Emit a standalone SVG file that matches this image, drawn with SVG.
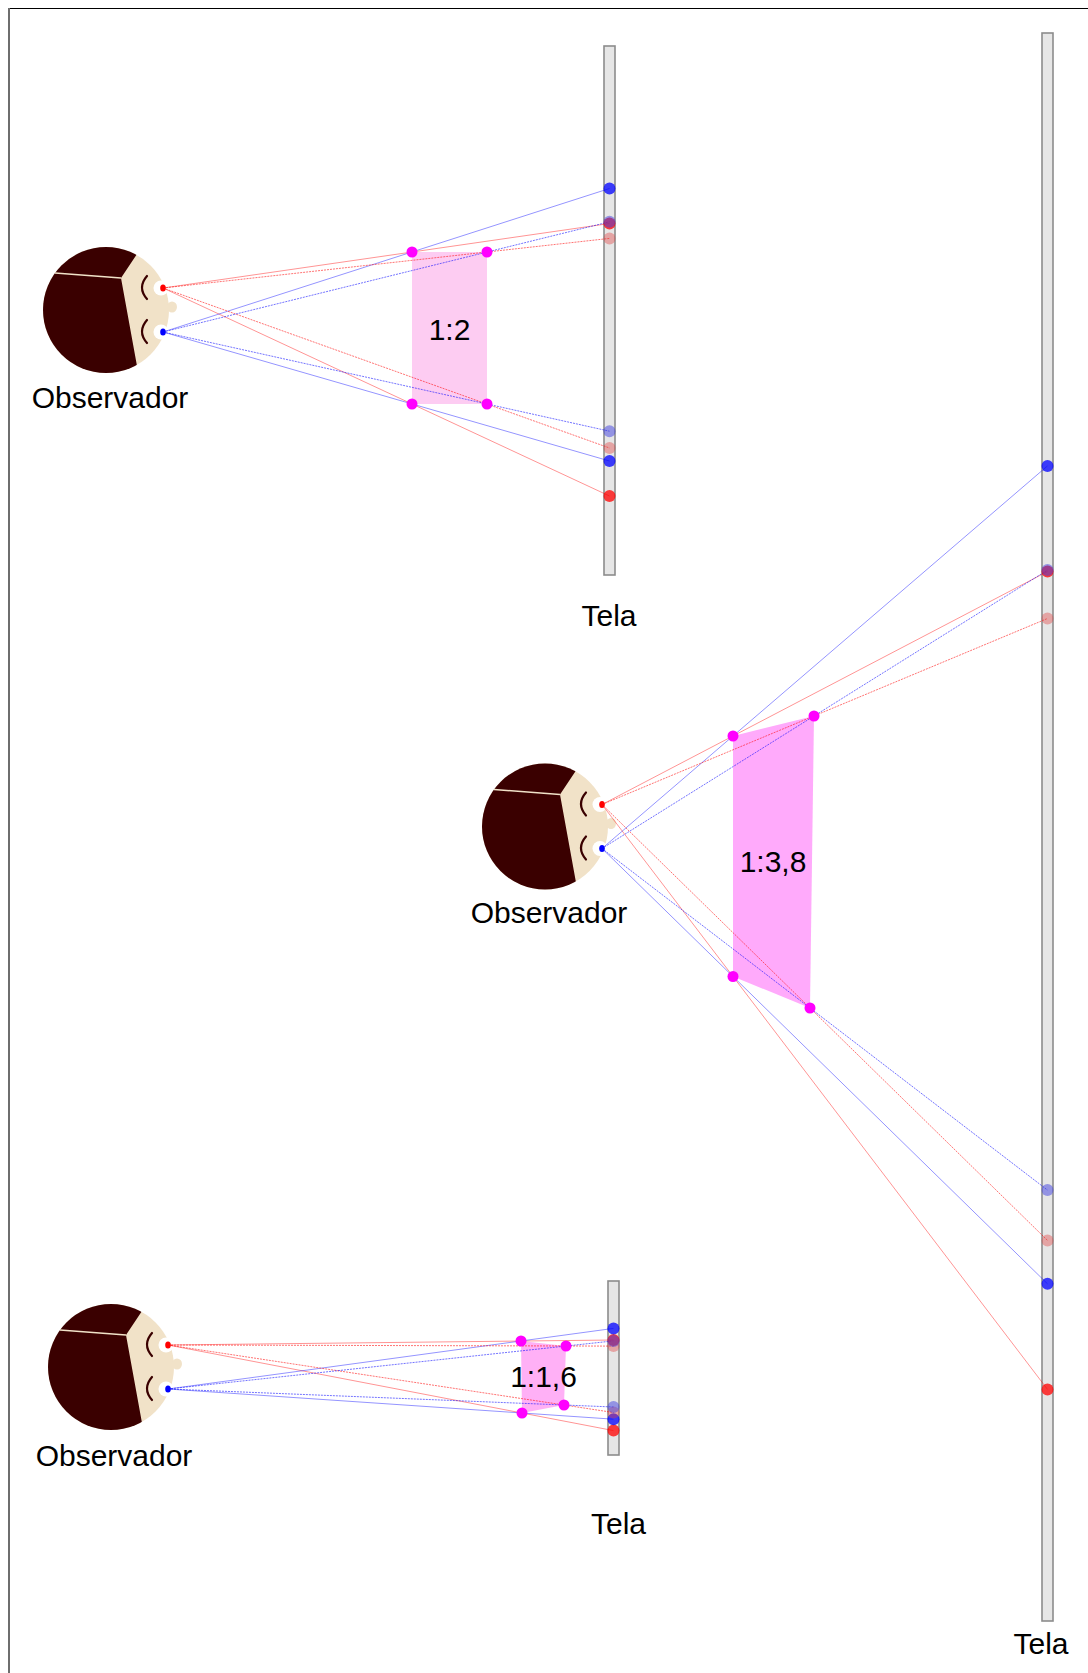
<svg xmlns="http://www.w3.org/2000/svg" width="1088" height="1673" viewBox="0 0 1088 1673">
  <defs>
    <style>
      text { font-family: "Liberation Sans", Arial, sans-serif; font-size: 30px; fill: #000; }
      .lbl { text-anchor: middle; }
      .screen { fill: #e6e6e6; stroke: #8c8c8c; stroke-width: 1.6; }
      .ray { stroke-width: 1; fill: none; }
      .r { stroke: #ff0000; }
      .b { stroke: #0000ff; }
      .near { stroke-opacity: 0.42; }
      .far { stroke-opacity: 0.55; stroke-dasharray: 2 1; }
      .pt { fill: #ff00ff; }
      .dr { fill: #ff0000; fill-opacity: 0.75; }
      .db { fill: #0000ff; fill-opacity: 0.75; }
      .lr { fill: #e04040; fill-opacity: 0.4; }
      .lb { fill: #4040e0; fill-opacity: 0.5; }
      .lid { fill: none; stroke: #3a0000; stroke-width: 2.2; stroke-linecap: round; }
    </style>
    <clipPath id="skull"><circle r="63"/></clipPath>
    <!-- observer head seen from above, centred on its origin; eyes at (57,-22) and (57,22) -->
    <g id="head">
      <circle r="63" fill="#f1e2c8"/>
      <ellipse cx="66" cy="-3" rx="5" ry="5.5" fill="#f1e2c8"/>
      <path d="M31,-56 L15,-32 L31,56 L31,70 L-70,70 L-70,-70 L31,-70 Z" fill="#3a0000" clip-path="url(#skull)"/>
      <line x1="-51" y1="-37" x2="15" y2="-32" stroke="#f1e2c8" stroke-width="1.5"/>
      <path class="lid" d="M41,-34 Q31,-22.5 41,-11"/>
      <path class="lid" d="M41,10 Q31,21.5 41,33"/>
      <circle cx="55" cy="-22" r="7.5" fill="#fff"/>
      <circle cx="55" cy="22" r="7.5" fill="#fff"/>
      <ellipse cx="57" cy="-22" rx="2.8" ry="3.5" fill="#ff0000"/>
      <ellipse cx="57" cy="22" rx="2.8" ry="3.5" fill="#0000ff"/>
    </g>
  </defs>

  <rect width="1088" height="1673" fill="#fff"/>
  <line x1="8" y1="8.5" x2="1088" y2="8.5" stroke="#000" stroke-width="1"/>
  <line x1="9" y1="8" x2="9" y2="1673" stroke="#6e6e6e" stroke-width="2"/>

  <!-- screens -->
  <g id="screen1">
    <rect class="screen" x="604" y="46" width="11" height="529"/>
    <text class="lbl" x="609" y="626">Tela</text>
  </g>
  <g id="screen2">
    <rect class="screen" x="1042" y="33" width="11" height="1588"/>
    <text class="lbl" x="1041" y="1654">Tela</text>
  </g>
  <g id="screen3">
    <rect class="screen" x="608" y="1281" width="11" height="174"/>
    <text class="lbl" x="618.5" y="1534">Tela</text>
  </g>

  <!-- perceived shapes -->
  <g id="shape1">
    <rect x="412" y="252" width="75" height="152" fill="#fdccf2"/>
    <text class="lbl" x="449.5" y="340">1:2</text>
  </g>
  <g id="shape2">
    <polygon points="733,736 814,716 810,1008 733,976.5" fill="#ffaafb"/>
    <text class="lbl" x="773" y="871.5">1:3,8</text>
  </g>
  <g id="shape3">
    <polygon points="521,1341 566,1346 564,1405 522,1413" fill="#ffb0f6"/>
    <text class="lbl" x="543.5" y="1386.5">1:1,6</text>
  </g>

  <!-- observers -->
  <g id="observer1">
    <use href="#head" transform="translate(106,310)"/>
    <text class="lbl" x="110" y="408">Observador</text>
  </g>
  <g id="observer2">
    <use href="#head" transform="translate(545,826.5)"/>
    <text class="lbl" x="549" y="923">Observador</text>
  </g>
  <g id="observer3">
    <use href="#head" transform="translate(111,1367)"/>
    <text class="lbl" x="114" y="1466">Observador</text>
  </g>

  <!-- sight lines: eye -> perceived corner -> screen -->
  <g id="connectors" class="ray">
    <!-- set 1 -->
    <line class="r near" x1="163" y1="288" x2="609.5" y2="223.5"/>
    <line class="r near" x1="163" y1="288" x2="609.5" y2="496"/>
    <line class="b near" x1="163" y1="332" x2="609.5" y2="188.5"/>
    <line class="b near" x1="163" y1="332" x2="609.5" y2="461"/>
    <line class="r far" x1="163" y1="288" x2="609.5" y2="238.4"/>
    <line class="r far" x1="163" y1="288" x2="609.5" y2="448"/>
    <line class="b far" x1="163" y1="332" x2="609.5" y2="221.8"/>
    <line class="b far" x1="163" y1="332" x2="609.5" y2="431.2"/>
    <!-- set 2 -->
    <line class="r near" x1="602" y1="804.5" x2="1047.5" y2="571.5"/>
    <line class="r near" x1="602" y1="804.5" x2="1047.5" y2="1389.4"/>
    <line class="b near" x1="602" y1="848.5" x2="1047.5" y2="465.9"/>
    <line class="b near" x1="602" y1="848.5" x2="1047.5" y2="1283.8"/>
    <line class="r far" x1="602" y1="804.5" x2="1047.5" y2="618.5"/>
    <line class="r far" x1="602" y1="804.5" x2="1047.5" y2="1240.4"/>
    <line class="b far" x1="602" y1="848.5" x2="1047.5" y2="570.1"/>
    <line class="b far" x1="602" y1="848.5" x2="1047.5" y2="1190.1"/>
    <!-- set 3 -->
    <line class="r near" x1="168" y1="1345" x2="613.5" y2="1340"/>
    <line class="r near" x1="168" y1="1345" x2="613.5" y2="1430.6"/>
    <line class="b near" x1="168" y1="1389" x2="613.5" y2="1328.4"/>
    <line class="b near" x1="168" y1="1389" x2="613.5" y2="1419.2"/>
    <line class="r far" x1="168" y1="1345" x2="613.5" y2="1346.1"/>
    <line class="r far" x1="168" y1="1345" x2="613.5" y2="1412.5"/>
    <line class="b far" x1="168" y1="1389" x2="613.5" y2="1340.9"/>
    <line class="b far" x1="168" y1="1389" x2="613.5" y2="1407"/>
  </g>

  <!-- corners of the perceived shapes -->
  <g id="corners1">
    <circle class="pt" cx="412" cy="252" r="5.5"/>
    <circle class="pt" cx="487" cy="252" r="5.5"/>
    <circle class="pt" cx="412" cy="404" r="5.5"/>
    <circle class="pt" cx="487" cy="404" r="5.5"/>
  </g>
  <g id="corners2">
    <circle class="pt" cx="733" cy="736" r="5.5"/>
    <circle class="pt" cx="814" cy="716" r="5.5"/>
    <circle class="pt" cx="733" cy="976.5" r="5.5"/>
    <circle class="pt" cx="810" cy="1008" r="5.5"/>
  </g>
  <g id="corners3">
    <circle class="pt" cx="521" cy="1341" r="5.5"/>
    <circle class="pt" cx="566" cy="1346" r="5.5"/>
    <circle class="pt" cx="522" cy="1413" r="5.5"/>
    <circle class="pt" cx="564" cy="1405" r="5.5"/>
  </g>

  <!-- image points on the screens -->
  <g id="screen-points1">
    <circle class="dr" cx="609.5" cy="223.5" r="6"/>
    <circle class="dr" cx="609.5" cy="496" r="6"/>
    <circle class="db" cx="609.5" cy="188.5" r="6"/>
    <circle class="db" cx="609.5" cy="461" r="6"/>
    <circle class="lr" cx="609.5" cy="238.4" r="6"/>
    <circle class="lr" cx="609.5" cy="448" r="6"/>
    <circle class="lb" cx="609.5" cy="221.8" r="6"/>
    <circle class="lb" cx="609.5" cy="431.2" r="6"/>
  </g>
  <g id="screen-points2">
    <circle class="dr" cx="1047.5" cy="571.5" r="6"/>
    <circle class="dr" cx="1047.5" cy="1389.4" r="6"/>
    <circle class="db" cx="1047.5" cy="465.9" r="6"/>
    <circle class="db" cx="1047.5" cy="1283.8" r="6"/>
    <circle class="lr" cx="1047.5" cy="618.5" r="6"/>
    <circle class="lr" cx="1047.5" cy="1240.4" r="6"/>
    <circle class="lb" cx="1047.5" cy="570.1" r="6"/>
    <circle class="lb" cx="1047.5" cy="1190.1" r="6"/>
  </g>
  <g id="screen-points3">
    <circle class="dr" cx="613.5" cy="1340" r="6"/>
    <circle class="dr" cx="613.5" cy="1430.6" r="6"/>
    <circle class="db" cx="613.5" cy="1328.4" r="6"/>
    <circle class="db" cx="613.5" cy="1419.2" r="6"/>
    <circle class="lr" cx="613.5" cy="1346.1" r="6"/>
    <circle class="lr" cx="613.5" cy="1412.5" r="6"/>
    <circle class="lb" cx="613.5" cy="1340.9" r="6"/>
    <circle class="lb" cx="613.5" cy="1407" r="6"/>
  </g>
</svg>
